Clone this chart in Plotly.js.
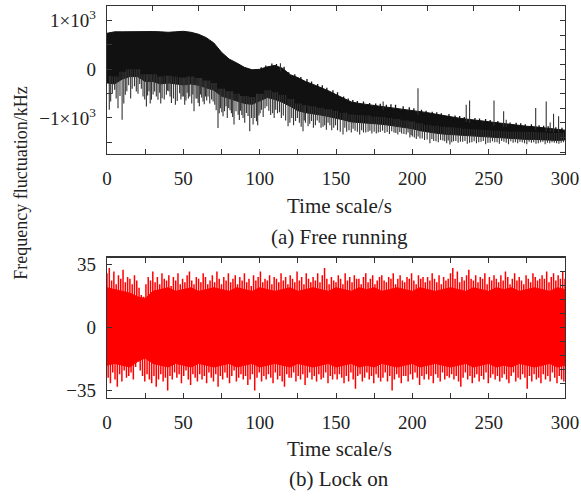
<!DOCTYPE html>
<html><head><meta charset="utf-8">
<script src="https://cdn.plot.ly/plotly-3.0.1.min.js"></script>
<style>html,body{margin:0;padding:0;background:#fff}#chart{width:581px;height:496px}</style>
</head><body><div id="chart"></div>
<script>
// ---------- (a) Free running ----------
const envTime = [0,5,10,15,20,25,30,35,40,45,50,55,60,65,70,75,80,85,90,95,100,105,110,115,120,125,130,135,140,145,150,155,160,165,170,175,180,185,190,195,200,205,210,215,220,225,230,235,240,245,250,255,260,265,270,275,280,285,290,295,300];
const freeUpper = [740,770,770,775,770,770,775,770,760,770,780,760,720,650,540,350,210,130,40,-10,0,50,80,20,-110,-170,-250,-310,-370,-440,-520,-600,-670,-700,-720,-750,-770,-790,-800,-820,-840,-870,-890,-920,-950,-970,-1000,-1020,-1040,-1060,-1080,-1100,-1120,-1140,-1150,-1170,-1180,-1200,-1220,-1240,-1250];
const freeLower = [-280,-300,-200,-150,-150,-250,-250,-300,-280,-300,-320,-300,-330,-380,-430,-550,-600,-650,-700,-720,-650,-580,-620,-680,-760,-850,-890,-910,-940,-970,-1000,-1040,-1080,-1090,-1100,-1120,-1130,-1150,-1170,-1200,-1220,-1260,-1290,-1310,-1330,-1340,-1350,-1370,-1380,-1390,-1400,-1410,-1420,-1430,-1430,-1440,-1440,-1450,-1460,-1460,-1450];
// long downward glitches
const freeDownT = [1.5,2.4,5,7.2,9.9,12,14.2,16.5,19.2,21.4,23.6,25.8,27.5,29.1,31.2,33.4,36.1,38.9,40.5,42.2,44.8,47.6,49.2,50.9,52.5,54.2,57,58.3,59.7,61.3,62.9,64.5,66.2,68.5,70.6,72.7,74.3,76,78,79.7,81.5,83.2,85.9,87.5,89.1,91.3,93.5,94.6,95.7,97.9,99.5,101.2,103.5,106,108.5,110.5,113,115.5,118.6,121,123.5,126,128.4,130,131.7,134,136.5,139,141.5,143.7,146,148.5,151,154.6,157,160,162.5,165.5,168,171,173.5,176.4,179,182,185,188,190.5,193,196,198.4,200,202.6,205,208,211.5,214,217,220,222.5,224.6,227,230,233,236,239,242,245,248,251,254,257,260,263,266,269,272,275,278,281,284,287,290,293,296,299];
const freeDownV = [-830,-660,-420,-800,-1035,-525,-330,-400,-455,-300,-558,-762,-450,-626,-456,-626,-592,-524,-450,-694,-728,-490,-560,-728,-480,-558,-864,-600,-694,-520,-660,-560,-558,-620,-728,-1204,-800,-966,-760,-796,-900,-1136,-932,-850,-1000,-898,-1272,-1000,-1136,-1068,-950,-830,-800,-850,-900,-830,-880,-950,-1170,-1000,-1060,-1100,-1272,-1100,-1170,-1060,-1150,-1100,-1180,-1240,-1150,-1200,-1250,-1340,-1280,-1300,-1260,-1340,-1300,-1280,-1320,-1320,-1290,-1310,-1330,-1300,-1340,-1320,-1340,-1400,-1380,-1430,-1420,-1450,-1520,-1470,-1500,-1460,-1520,-1544,-1480,-1510,-1490,-1530,-1500,-1520,-1490,-1540,-1510,-1500,-1530,-1490,-1540,-1510,-1520,-1500,-1540,-1510,-1530,-1500,-1540,-1520,-1510,-1530,-1500];
// shorter downward teeth of the noise comb
const freeTeethT = [3.5,6,8.5,11,13,15.5,18,20.3,22.5,24.7,26.6,28.3,30.2,32.3,34.5,35.2,37.5,39.7,41.3,43.5,46,48.4,50,51.7,53.3,55.5,56.2,59,60.5,62,63.7,65.3,67.3,69.5,71.5,73.5,75.2,77,78.8,80.6,82.3,84.5,86.7,88.3,90.2,92.4,96.8,98.7,100.3,102.3,104.7,107.2,109.5,111.7,114.2,117,119.8,122.2,124.7,127.2,129.2,132.8,135.2,137.7,140.2,142.6,144.8,147.2,149.7,152.8,155.8,158.5,161.2,164,166.8,169.5,172.2,175,177.7,180.5,183.5,186.5,189.2,191.8,194.5,197.2,199.2,201.3,203.8,206.5,209.7,212.8,215.5,218.5,221.2,223.5,225.8,228.5,231.5,234.5,237.5,240.5,243.5,246.5,249.5,252.5,255.5,258.5,261.5,264.5,267.5,270.5,273.5,276.5,279.5,282.5,285.5,288.5,291.5,294.5,297.5];
const freeTeethV = [-500,-600,-550,-700,-450,-600,-350,-500,-400,-620,-540,-700,-520,-560,-480,-700,-620,-440,-560,-600,-650,-620,-560,-640,-600,-700,-520,-600,-760,-580,-720,-640,-700,-660,-840,-900,-880,-860,-1000,-840,-980,-860,-1040,-940,-1100,-960,-1000,-1150,-900,-980,-760,-940,-1000,-900,-1000,-1050,-1100,-1150,-1000,-1180,-1050,-1120,-1200,-1050,-1200,-1150,-1100,-1250,-1150,-1280,-1200,-1250,-1220,-1280,-1250,-1300,-1260,-1280,-1300,-1260,-1290,-1270,-1310,-1290,-1330,-1300,-1350,-1400,-1380,-1420,-1440,-1430,-1480,-1450,-1480,-1460,-1500,-1470,-1490,-1470,-1510,-1480,-1500,-1470,-1510,-1480,-1500,-1470,-1510,-1480,-1500,-1490,-1520,-1490,-1500,-1520,-1490,-1510,-1500,-1520,-1510];
// upward glitches
const freeUpT = [113.6,180.9,203.7,235.3,237.5,253.5,259.8,261.5,280.8,287.7,290.3,292.5,295.8];
const freeUpV = [122,-660,-388,-728,-640,-640,-864,-1034,-796,-660,-1090,-912,-966];
// small roughness on the upper edge
const freeRoughT = [101,104,108,111,116,119,123,127,131,134,138,141,144,148,151,155,158,161,164,168,172,176,179,183,186,189,194,198,201,206,209,213,216,219,224,228,231,234,241,244,248,251,256,264,268,271,274,278,283,286,289,294,298];
const freeRoughV = [40,80,120,110,50,-60,-100,-160,-200,-250,-300,-330,-380,-430,-470,-560,-600,-630,-650,-660,-690,-700,-710,-730,-720,-730,-760,-780,-800,-830,-850,-870,-880,-900,-920,-950,-960,-980,-1000,-1010,-1020,-1040,-1060,-1090,-1100,-1110,-1130,-1130,-1150,-1160,-1170,-1190,-1200];

// ---------- (b) Lock on ----------
const coreTime = envTime;
const lockCoreHi = [22,21,20,19,17,16,20,21,22,20, 21,22,20,21,22,21,20,22,21,20, 22,21,20,21,22,20,21,22,21,20, 22,21,20,22,21,22,20,21,22,21, 20,22,21,20,21,22,21,20,22,21, 20,22,21,22,20,21,22,21,20,22, 21];
const lockCoreLo = [-21,-20,-21,-22,-19,-17,-20,-21,-22,-20, -21,-22,-20,-21,-22,-21,-20,-22,-21,-20, -22,-21,-20,-21,-22,-20,-21,-22,-21,-20, -22,-21,-20,-22,-21,-22,-20,-21,-22,-21, -20,-22,-21,-20,-21,-22,-21,-20,-22,-21, -20,-22,-21,-22,-20,-21,-22,-21,-20,-22, -21];
const lockStep = 1.5;
const lockUp = [30,33,26,31,24,29,27,32,25,28, 27,24,29,26,22,18,17,24,28,26, 31,25,28,24,30,27,26,29,23,28, 26,30,24,27,25,29,31,26,24,28,
 27,25,30,28,24,26,29,25,31,27, 24,28,26,30,25,27,29,24,28,26, 30,25,27,23,29,26,28,31,25,27, 26,29,24,28,27,25,30,26,28,24,
 29,27,25,31,26,28,24,30,27,25, 28,26,30,25,29,33,27,24,28,26, 25,29,27,24,30,26,28,25,29,27, 27,24,28,30,25,27,29,24,26,28,
 29,26,25,28,27,30,24,27,29,26, 25,28,27,30,26,24,29,27,28,25, 28,26,30,27,25,29,24,28,26,27, 30,33,27,31,25,28,26,29,32,27,
 26,29,25,28,27,30,24,28,26,29, 27,25,29,26,31,28,24,27,30,26, 28,26,24,29,27,25,30,28,26,27, 29,27,31,25,28,30,26,29,27,31, 27];
const lockDown = [-28,-31,-25,-29,-33,-26,-30,-24,-28,-27, -25,-29,-22,-19,-24,-27,-30,-26,-29,-31, -27,-33,-29,-26,-30,-28,-35,-27,-29,-25, -28,-26,-31,-27,-24,-29,-32,-26,-28,-30,
 -26,-29,-27,-31,-25,-28,-30,-26,-33,-27, -29,-25,-28,-31,-27,-24,-30,-28,-26,-29, -27,-32,-29,-26,-35,-28,-25,-30,-27,-29, -26,-28,-31,-25,-29,-27,-30,-33,-26,-28,
 -28,-25,-30,-27,-29,-26,-32,-28,-25,-29, -27,-30,-26,-29,-28,-25,-31,-27,-29,-26, -29,-26,-28,-31,-27,-30,-25,-29,-34,-27, -26,-30,-28,-25,-29,-27,-31,-26,-28,-30,
 -28,-25,-30,-27,-35,-29,-26,-28,-31,-27, -27,-30,-26,-29,-25,-28,-32,-27,-29,-26, -29,-27,-31,-26,-28,-30,-25,-29,-27,-28, -26,-29,-27,-30,-33,-28,-25,-29,-27,-31,
 -28,-26,-30,-27,-29,-25,-31,-28,-26,-29, -27,-30,-28,-26,-29,-31,-27,-25,-30,-28, -29,-26,-28,-34,-27,-30,-26,-29,-28,-31, -26,-29,-27,-30,-25,-28,-31,-27,-29,-30];

// ---------- ticks ----------
const xTickVals = [0,50,100,150,200,250,300];
const xMinorVals = [25,75,125,175,225,275];
const freeTickVals = [1000,0,-1000];
const freeTickText = ['1×10<sup>3</sup>','0','−1×10<sup>3</sup>'];
const freeMinorVals = [500,-500,-1500];
const lockTickVals = [35,0,-35];
const lockTickText = ['35','0','−35'];

// ---------- build spike segments ----------
function envAt(arr, t){ return arr[Math.min(arr.length-1, Math.max(0, Math.round(t/5)))]; }
function segs(ts, tips, baseFn){
  const x=[], y=[];
  ts.forEach((t,i)=>{ x.push(t,t,null); y.push(baseFn(t), tips[i], null); });
  return {x,y};
}
const dn = segs(freeDownT, freeDownV, t=>envAt(freeLower,t)+150);
const dn2 = segs(freeTeethT, freeTeethV, t=>envAt(freeLower,t)+150);
const up = segs(freeUpT, freeUpV, t=>envAt(freeUpper,t)-60);
const up2 = segs(freeRoughT, freeRoughV, t=>envAt(freeUpper,t)-60);
const lockUpT = lockUp.map((v,i)=>i*lockStep);
const lockDownT = lockDown.map((v,i)=>i*lockStep+lockStep/2);
const ru = segs(lockUpT, lockUp, ()=>0);
const rd = segs(lockDownT, lockDown, ()=>0);

const BLK='#111', SPK='#333', RED='#ff0000';
const common = {mode:'lines', hoverinfo:'skip', connectgaps:false};
const traces = [
  Object.assign({x:envTime, y:freeLower, line:{color:BLK,width:1}, xaxis:'x', yaxis:'y'}, common),
  Object.assign({x:envTime, y:freeUpper, fill:'tonexty', fillcolor:BLK, line:{color:BLK,width:1}, xaxis:'x', yaxis:'y'}, common),
  Object.assign({x:dn.x, y:dn.y, line:{color:SPK,width:1.1}, xaxis:'x', yaxis:'y'}, common),
  Object.assign({x:dn2.x, y:dn2.y, line:{color:SPK,width:1.1}, xaxis:'x', yaxis:'y'}, common),
  Object.assign({x:up.x, y:up.y, line:{color:SPK,width:1.1}, xaxis:'x', yaxis:'y'}, common),
  Object.assign({x:up2.x, y:up2.y, line:{color:BLK,width:1.3}, xaxis:'x', yaxis:'y'}, common),
  Object.assign({x:coreTime, y:lockCoreLo, line:{color:RED,width:1}, xaxis:'x2', yaxis:'y2'}, common),
  Object.assign({x:coreTime, y:lockCoreHi, fill:'tonexty', fillcolor:RED, line:{color:RED,width:1}, xaxis:'x2', yaxis:'y2'}, common),
  Object.assign({x:ru.x, y:ru.y, line:{color:RED,width:1.5}, xaxis:'x2', yaxis:'y2'}, common),
  Object.assign({x:rd.x, y:rd.y, line:{color:RED,width:1.5}, xaxis:'x2', yaxis:'y2'}, common),
  Object.assign({x:[null], y:[null], xaxis:'x3', yaxis:'y3'}, common),
  Object.assign({x:[null], y:[null], xaxis:'x4', yaxis:'y4'}, common)
];

const F = 'Liberation Serif, Times New Roman, serif';
const tickFont = {family:F, size:19, color:'#222'};
const lineC = '#333';
const baseX = {range:[0,300], showline:true, linecolor:lineC, linewidth:1.3, mirror:true, ticks:'inside', ticklen:5, tickcolor:lineC,
  tickvals:xTickVals, ticktext:xTickVals.map(String), tickfont:tickFont, showgrid:false, zeroline:false, ticklabelstandoff:7,
  minor:{tickvals:xMinorVals, ticks:'inside', ticklen:5, tickcolor:lineC, showgrid:false}};

const layout = {
  width:581, height:496, showlegend:false,
  margin:{l:107, r:16, t:6, b:97.5},
  paper_bgcolor:'#fff', plot_bgcolor:'#fff',
  xaxis: Object.assign({}, baseX, {domain:[0,1], anchor:'y'}),
  yaxis: {domain:[0.623,1], anchor:'x', range:[-1735,1300], showline:true, linecolor:lineC, linewidth:1.3, mirror:true,
    ticks:'inside', ticklen:5, tickcolor:lineC, tickvals:freeTickVals, ticktext:freeTickText, tickfont:tickFont,
    showgrid:false, zeroline:false, ticklabelstandoff:6,
    minor:{tickvals:freeMinorVals, ticks:'inside', ticklen:5, tickcolor:lineC, showgrid:false}},
  xaxis2: Object.assign({}, baseX, {domain:[0,1], anchor:'y2', mirror:'ticks'}),
  yaxis2: {domain:[0,0.358], anchor:'x2', range:[-39.2,38.7], showline:true, linecolor:lineC, linewidth:1.3, mirror:true,
    ticks:'inside', ticklen:5, tickcolor:lineC, tickvals:lockTickVals, ticktext:lockTickText, tickfont:tickFont,
    showgrid:false, zeroline:false, ticklabelstandoff:6},
  xaxis3: {overlaying:'x', side:'top', anchor:'y', range:[0,300], tick0:0, dtick:30, ticks:'inside', ticklen:5, tickcolor:lineC,
    showticklabels:false, showgrid:false, zeroline:false, showline:false},
  yaxis3: {overlaying:'y', side:'right', anchor:'x', range:[-1735,1300], tick0:1000, dtick:300, ticks:'inside', ticklen:5, tickcolor:lineC,
    showticklabels:false, showgrid:false, zeroline:false, showline:false},
  xaxis4: {overlaying:'x2', side:'top', anchor:'y2', range:[0,300], tick0:0, dtick:25, ticks:'', showticklabels:false, showgrid:false, zeroline:false, showline:false},
  yaxis4: {overlaying:'y2', side:'right', anchor:'x2', range:[-39.2,38.7], tick0:0, dtick:7.75, ticks:'inside', ticklen:5, tickcolor:lineC,
    showticklabels:false, showgrid:false, zeroline:false, showline:false},
  annotations: [
    {text:'Time scale/s', xref:'paper', yref:'paper', x:0.5066, y:0.4887, xanchor:'center', yanchor:'middle', showarrow:false, font:{family:F,size:21,color:'#222'}},
    {text:'(a) Free running', xref:'paper', yref:'paper', x:0.5087, y:0.4115, xanchor:'center', yanchor:'middle', showarrow:false, font:{family:F,size:21,color:'#222'}},
    {text:'Time scale/s', xref:'paper', yref:'paper', x:0.5066, y:-0.1312, xanchor:'center', yanchor:'middle', showarrow:false, font:{family:F,size:21,color:'#222'}},
    {text:'(b) Lock on', xref:'paper', yref:'paper', x:0.5066, y:-0.2076, xanchor:'center', yanchor:'middle', showarrow:false, font:{family:F,size:21,color:'#222'}},
    {text:'Frequency fluctuation/kHz', xref:'paper', yref:'paper', x:-0.1878, y:0.549, xanchor:'center', yanchor:'middle', textangle:-90, showarrow:false, font:{family:F,size:18,color:'#222'}}
  ]
};
Plotly.newPlot('chart', traces, layout, {staticPlot:true, displayModeBar:false});
</script></body></html>
